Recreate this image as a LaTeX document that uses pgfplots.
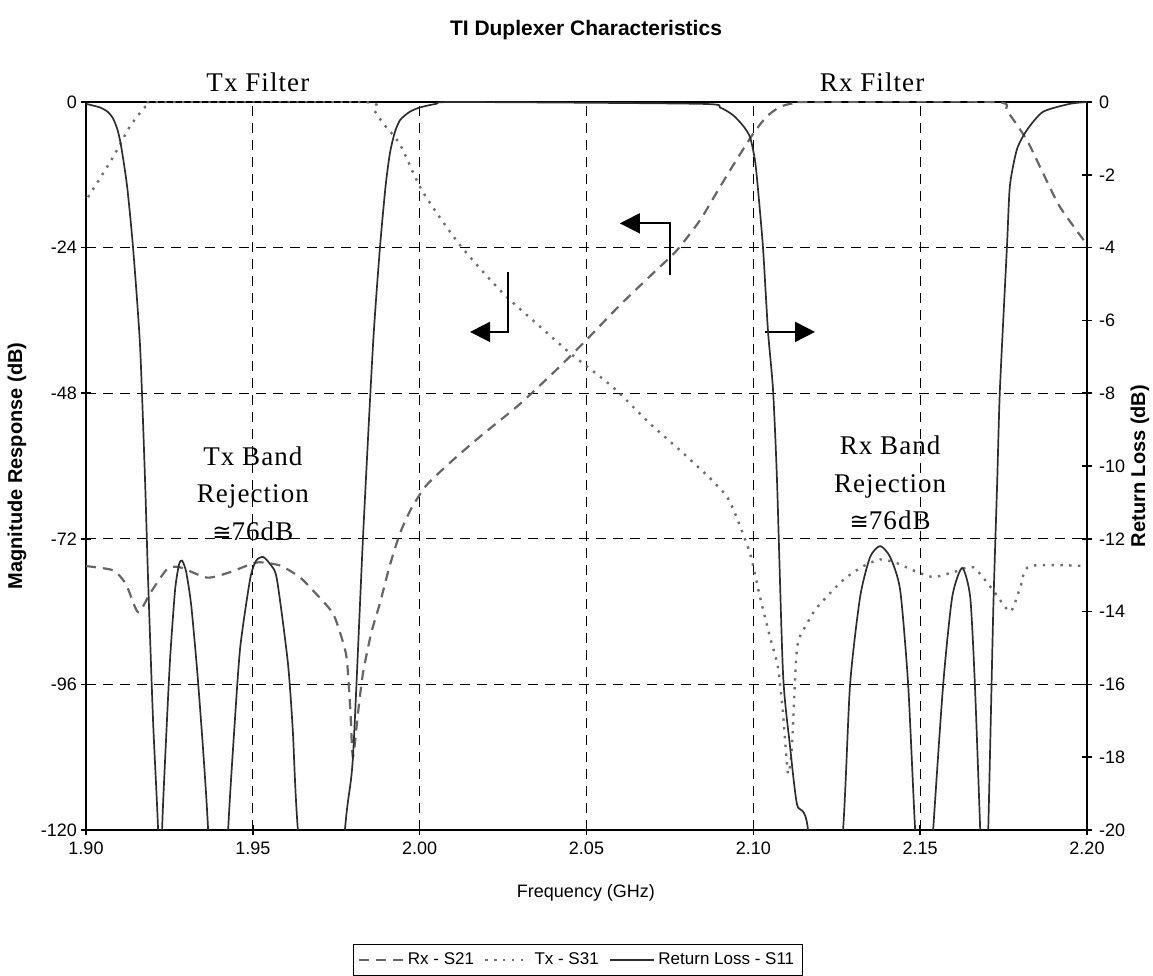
\documentclass[border=0pt]{standalone}
\usepackage{fontspec}
\setmainfont{Liberation Serif}
\setsansfont{Liberation Sans}
\newfontfamily\annfont{Liberation Serif}[LetterSpace=4]
\newfontfamily\symfont{DejaVu Sans}
\usepackage{graphicx}
\usepackage{pgfplots}
\pgfplotsset{compat=1.18}
\usetikzlibrary{arrows.meta}
\definecolor{rxc}{HTML}{666666}
\definecolor{txc}{HTML}{6E6E6E}
\definecolor{s11c}{HTML}{2E2E2E}
\tikzset{
  rxstyle/.style={color=rxc, line width=1.1pt, dash pattern=on 5pt off 3.5pt},
  txstyle/.style={color=txc, line width=1.2pt, dash pattern=on 1.2pt off 3.2pt},
  s11style/.style={color=s11c, line width=0.85pt},
}
\begin{document}
\begin{tikzpicture}
\path[use as bounding box] (-43pt,-73pt) rectangle (533.5pt,415pt);
\begin{axis}[
  at={(0,0)}, anchor=south west,
  width=500.5pt, height=364pt, scale only axis,
  xmin=1.9, xmax=2.2, ymin=-120, ymax=0,
  xtick={1.90,1.95,2.00,2.05,2.10,2.15,2.20},
  xticklabels={1.90,1.95,2.00,2.05,2.10,2.15,2.20},
  ytick={-120,-96,-72,-48,-24,0},
  yticklabels={-120,-96,-72,-48,-24,0},
  xtick pos=bottom, ytick pos=left,
  tick align=center, major tick length=5pt,
  grid=major,
  major grid style={black, line width=0.6pt, dash pattern=on 5pt off 3.5pt},
  axis line style={line width=0.8pt},
  tick style={black, line width=0.8pt},
  ticklabel style={font=\sffamily\fontsize{9}{10}\selectfont},
  yticklabel style={xshift=1.5pt},
  /pgf/number format/assume math mode=true,
  clip mode=individual,
]
\addplot[rxstyle, smooth, tension=0.4] table {
1.9000 -76.5
1.9081 -77.2
1.9120 -79.5
1.9156 -84.1
1.9192 -81.0
1.9243 -77.0
1.9282 -76.7
1.9363 -78.4
1.9432 -77.5
1.9512 -75.9
1.9581 -76.4
1.9640 -78.3
1.9680 -80.5
1.9740 -84.3
1.9770 -89.0
1.9782 -92.0
1.9792 -100.0
1.9800 -108.0
1.9815 -100.8
1.9830 -94.2
1.9855 -87.5
1.9881 -82.6
1.9910 -76.5
1.9941 -71.1
1.9975 -67.0
2.0020 -63.2
2.0090 -59.5
2.0180 -55.2
2.0300 -49.8
2.0420 -43.6
2.0500 -39.2
2.0600 -33.5
2.0700 -28.2
2.0770 -24.5
2.0840 -19.5
2.0900 -14.0
2.0950 -9.5
2.1000 -5.2
2.1040 -2.4
2.1080 -0.8
2.1120 -0.2
2.1160 0
2.1719 0
2.1760 -1.5
2.1820 -6.3
2.1868 -11.7
2.1919 -17.3
2.2000 -23.5
};
\addplot[txstyle, smooth, tension=0.4] table {
1.9006 -15.7
1.9081 -9.1
1.9132 -4.0
1.9183 -0.5
1.9220 0
1.9830 0
1.9865 -1.5
1.9890 -3.5
1.9941 -7.0
2.0001 -14.0
2.0060 -19.0
2.0121 -23.6
2.0190 -28.0
2.0262 -32.2
2.0350 -36.5
2.0451 -41.4
2.0579 -47.0
2.0690 -53.0
2.0780 -57.4
2.0870 -62.0
2.0920 -65.0
2.0945 -67.8
2.0990 -74.4
2.1020 -81.6
2.1050 -88.2
2.1074 -93.2
2.1089 -100.8
2.1104 -110.7
2.1116 -106.0
2.1131 -90.0
2.1161 -86.0
2.1191 -83.3
2.1269 -78.8
2.1330 -76.5
2.1380 -75.4
2.1430 -76.0
2.1479 -77.2
2.1539 -78.3
2.1600 -77.5
2.1659 -76.7
2.1719 -80.5
2.1770 -84.0
2.1800 -80.0
2.1829 -76.5
2.2000 -76.5
};
% annotations
\node[font=\annfont\fontsize{13.5}{15}\selectfont] at (axis cs:1.9515,3.3) {Tx Filter};
\node[font=\annfont\fontsize{13.5}{15}\selectfont] at (axis cs:2.1356,3.3) {Rx Filter};
\node[font=\annfont\fontsize{13.5}{18.75}\selectfont, align=center] at (axis cs:1.9500,-64.5) {Tx Band\\Rejection\\{\symfont\fontsize{11.5}{12}\selectfont ≅}76dB};
\node[font=\annfont\fontsize{13.5}{18.75}\selectfont, align=center] at (axis cs:2.1410,-62.8) {Rx Band\\Rejection\\{\symfont\fontsize{11.5}{12}\selectfont ≅}76dB};
\draw[black, line width=0.9pt, -{Triangle[length=10pt,width=10pt]}] (axis cs:2.0265,-28.0) -- (axis cs:2.0265,-37.9) -- (axis cs:2.0151,-37.9);
\draw[black, line width=0.9pt, -{Triangle[length=10pt,width=10pt]}] (axis cs:2.0750,-28.5) -- (axis cs:2.0750,-20.0) -- (axis cs:2.0600,-20.0);
\draw[black, line width=0.9pt, -{Triangle[length=10pt,width=10pt]}] (axis cs:2.1035,-37.9) -- (axis cs:2.1185,-37.9);
\node[font=\sffamily\bfseries\fontsize{10.5}{12}\selectfont] at (rel axis cs:0.4995,1.0989) {TI Duplexer Characteristics};
\node[font=\sffamily\fontsize{9}{10}\selectfont] at (rel axis cs:0.4995,-0.0865) {Frequency (GHz)};
\node[font=\sffamily\bfseries\fontsize{10}{12}\selectfont, rotate=90] at (rel axis cs:-0.0689,0.5) {Magnitude Response (dB)};
\node[font=\sffamily\bfseries\fontsize{10}{12}\selectfont, rotate=90] at (rel axis cs:1.0529,0.5) {Return Loss (dB)};
\end{axis}
\begin{axis}[
  at={(0,0)}, anchor=south west,
  width=500.5pt, height=364pt, scale only axis,
  xmin=1.9, xmax=2.2, ymin=-20, ymax=0,
  axis x line=none, axis y line*=right,
  ytick={-20,-18,-16,-14,-12,-10,-8,-6,-4,-2,0},
  yticklabels={-20,-18,-16,-14,-12,-10,-8,-6,-4,-2,0},
  tick align=center, major tick length=5pt,
  axis line style={line width=0.8pt},
  tick style={black, line width=0.8pt},
  ticklabel style={font=\sffamily\fontsize{9}{10}\selectfont},
  /pgf/number format/assume math mode=true,
  clip mode=individual,
  legend columns=3,
  legend cell align=left,
  legend image code/.code={\draw[#1] (0pt,0pt) -- (22pt,0pt);},
  legend style={at={(rel axis cs:0.4915,-0.1786)}, anchor=center, draw=black, line width=0.6pt,
    font=\sffamily\fontsize{8.5}{10}\selectfont, inner sep=2pt,
    /tikz/every even column/.append style={column sep=3pt}},
]
\addlegendimage{rxstyle}
\addlegendentry{Rx - S21}
\addlegendimage{txstyle}
\addlegendentry{Tx - S31}
\addplot[s11style, smooth, tension=0.4] table {
1.9000 -0.05
1.9042 -0.15
1.9065 -0.27
1.9081 -0.45
1.9094 -0.75
1.9105 -1.2
1.9123 -2.3
1.9141 -4.0
1.9162 -6.7
1.9177 -10.4
1.9186 -13.1
1.9201 -17.0
1.9216 -20.0
1.9222 -23.0
1.9228 -20.0
1.9240 -17.5
1.9252 -15.3
1.9267 -13.4
1.9279 -12.7
1.9288 -12.6
1.9300 -12.9
1.9315 -13.8
1.9333 -15.6
1.9351 -17.8
1.9366 -20.0
1.9396 -26.0
1.9426 -20.0
1.9444 -17.3
1.9462 -15.0
1.9492 -13.1
1.9510 -12.6
1.9531 -12.5
1.9552 -12.7
1.9572 -13.1
1.9605 -15.4
1.9620 -17.3
1.9635 -20.0
1.9705 -28.0
1.9776 -20.0
1.9800 -18.0
1.9830 -12.0
1.9860 -6.7
1.9881 -4.0
1.9898 -2.3
1.9911 -1.4
1.9925 -0.85
1.9941 -0.5
1.9970 -0.27
2.0001 -0.15
2.0050 -0.05
2.0112 0
2.0840 -0.05
2.0900 -0.15
2.0939 -0.36
2.0969 -0.65
2.0990 -0.96
2.1005 -1.6
2.1014 -2.4
2.1029 -4.0
2.1044 -6.3
2.1059 -7.9
2.1071 -10.4
2.1089 -15.7
2.1110 -17.7
2.1131 -19.3
2.1164 -20.0
2.1217 -26.0
2.1269 -20.0
2.1290 -16.0
2.1320 -13.6
2.1350 -12.5
2.1380 -12.2
2.1410 -12.5
2.1440 -13.4
2.1464 -16.0
2.1485 -20.0
2.1512 -24.0
2.1539 -20.0
2.1569 -16.0
2.1596 -13.6
2.1626 -12.8
2.1650 -13.6
2.1664 -16.0
2.1680 -20.0
2.1692 -23.0
2.1704 -20.0
2.1719 -14.0
2.1731 -10.4
2.1739 -7.9
2.1760 -4.0
2.1769 -2.3
2.1790 -1.3
2.1820 -0.77
2.1868 -0.27
2.1949 -0.05
2.2000 0
};
\addlegendentry{Return Loss - S11}
\end{axis}
\end{tikzpicture}
\end{document}
